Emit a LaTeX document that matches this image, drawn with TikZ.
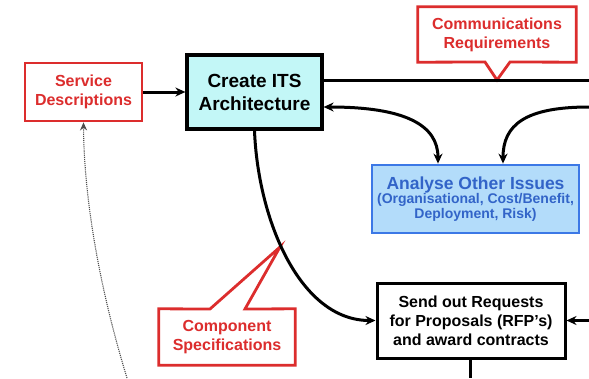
\documentclass[tikz,border=0pt]{standalone}
\usepackage{fontspec}
\setmainfont{Liberation Sans}
\usetikzlibrary{arrows.meta,backgrounds,calc}
\definecolor{redc}{RGB}{220,45,45}
\definecolor{cyanfill}{RGB}{195,247,247}
\definecolor{bluefill}{RGB}{179,220,250}
\definecolor{blueborder}{RGB}{60,120,230}
\definecolor{bluetext}{RGB}{50,100,200}
\tikzset{
  redlabel/.style={text=redc, font=\bfseries\fontsize{16}{19}\selectfont, align=center, inner sep=0pt},
  redbox/.style={redlabel, draw=redc, line width=2.8pt, fill=white},
  callout/.style={draw=redc, line width=2.8pt, fill=white, line join=miter},
  blackbox/.style={draw=black, line width=3pt, align=center, inner sep=0pt, font=\bfseries\fontsize{16}{19}\selectfont},
  conn/.style={line width=3pt, -{Stealth[length=10pt,width=9pt]}},
  dconn/.style={line width=3pt, {Stealth[length=10pt,width=9pt]}-{Stealth[length=10pt,width=9pt]}},
  plainline/.style={line width=3pt},
  dotconn/.style={densely dotted, line width=1.1pt, draw=black!70, -{Stealth[length=8pt,width=7pt]}}
}
\begin{document}
\begin{tikzpicture}[x=1pt,y=-1pt]
\useasboundingbox (0,0) rectangle (589,378);
% nodes
\node[redbox, minimum width=117pt, minimum height=58pt] (sd) at (83.5,92) {Service\\Descriptions};
\node[blackbox, fill=cyanfill, line width=3.2pt, minimum width=135pt, minimum height=74pt,
      font=\bfseries\fontsize{19}{23}\selectfont] (cits) at (254.5,92) {Create ITS\\Architecture};
\node[redlabel, minimum width=158pt, minimum height=55pt] (cr) at (497,34.5) {Communications\\Requirements};
\node[draw=blueborder, fill=bluefill, line width=2.8pt, minimum width=207pt, minimum height=68pt,
      align=center, inner sep=0pt, text=bluetext] (an) at (475.5,199)
      {{\bfseries\fontsize{17.5}{20}\selectfont Analyse Other Issues}\\[-0.5pt]
       {\bfseries\fontsize{14}{15}\selectfont (Organisational, Cost/Benefit,}\\[0pt]
       {\bfseries\fontsize{14}{15}\selectfont Deployment, Risk)}};
\node[blackbox, fill=white, minimum width=188pt, minimum height=75pt] (so) at (471,320.5)
      {Send out Requests\\for Proposals (RFP's)\\and award contracts};
\node[redlabel, minimum width=136pt, minimum height=56pt] (cs) at (227,337) {Component\\Specifications};
% callout outlines
\coordinate (crtip) at (497,80);
\coordinate (crb1) at (485,62);
\coordinate (crb2) at (510,62);
\coordinate (cstip) at (280,247);
\coordinate (csb1) at (210,309);
\coordinate (csb2) at (245,309);
\begin{scope}[on background layer]
\draw[callout] (cr.north west) -- (cr.north east) -- (cr.south east) -- (crb2) -- (crtip) -- (crb1) -- (cr.south west) -- cycle;
\draw[callout] (cs.north west) -- (csb1) -- (cstip) -- (csb2) -- (cs.north east) -- (cs.south east) -- (cs.south west) -- cycle;
\end{scope}
% free ends
\coordinate (r1) at (589,80);
\coordinate (r2) at (589,107);
\coordinate (r3) at (589,320.5);
\coordinate (b1) at (470,378);
\coordinate (d0) at (127,378);
% connectors
\draw[conn] (sd.east) -- (cits.west);
\draw[plainline] (cits.east |- crtip) -- (r1);
\draw[dconn] ([yshift=-15pt]cits.east) .. controls (405,107) and (438,125) .. ([xshift=-37.5pt]an.north);
\draw[conn] (r2) .. controls (525,107) and (503,125) .. ([xshift=27.5pt]an.north);
\draw[conn] (cits.south) .. controls (258,220) and (300,320.5) .. (so.west);
\draw[conn] (r3) -- (so.east);
\draw[plainline] ([xshift=-1pt]so.south) -- (b1);
\draw[dotconn] (d0) .. controls (100,290) and (84,200) .. (sd.south);
\end{tikzpicture}
\end{document}
